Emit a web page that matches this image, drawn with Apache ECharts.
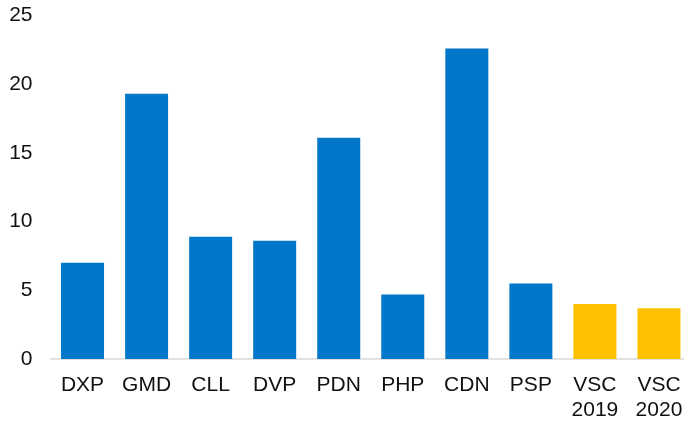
<!DOCTYPE html>
<html><head><meta charset="utf-8">
<script src="https://cdn.jsdelivr.net/npm/echarts@6/dist/echarts.min.js"></script>
<style>html,body{margin:0;padding:0;background:#fff;overflow:hidden;width:684px;height:423px}#c{width:691px;height:423px}</style>
</head><body><div id="c"></div>
<script>
const categories = ['DXP','GMD','CLL','DVP','PDN','PHP','CDN','PSP','VSC\n2019','VSC\n2020'];
const values = [7.0, 19.3, 8.9, 8.6, 16.1, 4.7, 22.6, 5.5, 4.0, 3.7];
const highlighted = [false,false,false,false,false,false,false,false,true,true];
const yTicks = {min:0, max:25, interval:5};

const chart = echarts.init(document.getElementById('c'), null, {renderer:'canvas'});
chart.setOption({
  animation:false,
  grid:{left:50.5, right:0, top:15.5, bottom:63, containLabel:false},
  xAxis:{type:'category', data:categories,
    axisLine:{show:true, lineStyle:{color:'#d9d9d9', width:1.5}},
    axisTick:{show:false},
    axisLabel:{color:'#111', fontFamily:'Liberation Sans, Arial, sans-serif', fontSize:21, lineHeight:25, margin:14, interval:0}
  },
  yAxis:{type:'value', min:yTicks.min, max:yTicks.max, interval:yTicks.interval,
    splitLine:{show:false}, axisLine:{show:false}, axisTick:{show:false},
    axisLabel:{color:'#111', fontFamily:'Liberation Sans, Arial, sans-serif', fontSize:21, margin:18}
  },
  series:[{type:'bar', barWidth:43,
    data:values.map((v,i)=>({value:v, itemStyle:{color: highlighted[i] ? '#FFC000' : '#0077C8'}}))
  }]
});
</script></body></html>
